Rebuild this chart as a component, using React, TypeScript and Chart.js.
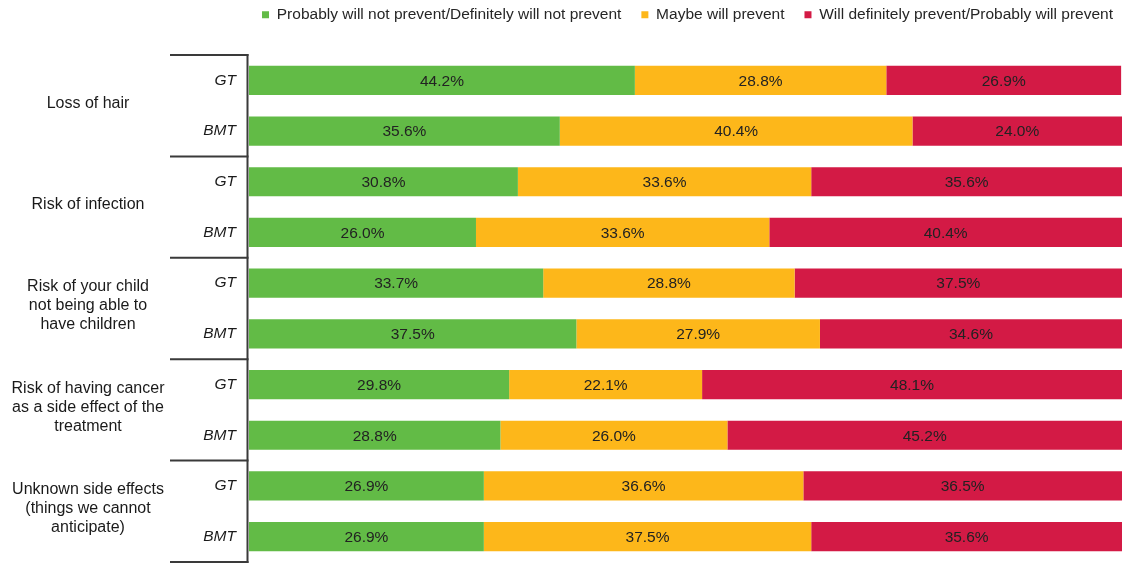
import React, { useEffect, useRef } from "react";
import { Chart, registerables } from "chart.js";

Chart.register(...registerables);

const groups: string[][] = [
  ["Loss of hair"],
  ["Risk of infection"],
  ["Risk of your child", "not being able to", "have children"],
  ["Risk of having cancer", "as a side effect of the", "treatment"],
  ["Unknown side effects", "(things we cannot", "anticipate)"],
];
const rowLabels = ["GT", "BMT", "GT", "BMT", "GT", "BMT", "GT", "BMT", "GT", "BMT"];
const seriesNames = [
  "Probably will not prevent/Definitely will not prevent",
  "Maybe will prevent",
  "Will definitely prevent/Probably will prevent",
];
const notPrevent = [44.2, 35.6, 30.8, 26.0, 33.7, 37.5, 29.8, 28.8, 26.9, 26.9];
const maybePrevent = [28.8, 40.4, 33.6, 33.6, 28.8, 27.9, 22.1, 26.0, 36.6, 37.5];
const willPrevent = [26.9, 24.0, 35.6, 40.4, 37.5, 34.6, 48.1, 45.2, 36.5, 35.6];
const colors = ["#62BB46", "#FDB71A", "#D31A45"];

const FONT = "'Liberation Sans', Arial, sans-serif";

const annotate = {
  id: "annotate",
  afterLayout(chart: any) {
    const lg = chart.legend;
    if (lg) {
      lg.left += 11;
      lg.right += 11;
      lg.top -= 13;
      lg.bottom -= 13;
    }
  },
  afterDatasetsDraw(chart: any) {
    const ctx = chart.ctx;
    ctx.save();
    ctx.fillStyle = "#222222";
    ctx.font = `15.5px ${FONT}`;
    ctx.textAlign = "center";
    ctx.textBaseline = "middle";
    chart.data.datasets.forEach((ds: any, di: number) => {
      const meta = chart.getDatasetMeta(di);
      meta.data.forEach((el: any, i: number) => {
        const v = ds.data[i];
        const cx = (el.x + el.base) / 2;
        ctx.fillText(`${v.toFixed(1)}%`, cx, el.y + 1);
      });
    });
    ctx.restore();
  },
  afterDraw(chart: any) {
    const ctx = chart.ctx;
    const area = chart.chartArea;
    const ys = chart.scales.y;
    ctx.save();
    ctx.strokeStyle = "#3a3a3a";
    ctx.lineWidth = 2;
    const axisX = area.left - 1.5;
    ctx.beginPath();
    ctx.moveTo(axisX, area.top - 1);
    ctx.lineTo(axisX, chart.height);
    ctx.stroke();
    const bounds: number[] = [area.top];
    for (let g = 1; g < groups.length; g++) {
      bounds.push((ys.getPixelForValue(2 * g - 1) + ys.getPixelForValue(2 * g)) / 2);
    }
    bounds.push(area.bottom);
    ctx.beginPath();
    bounds.forEach((b) => {
      ctx.moveTo(170, b);
      ctx.lineTo(axisX + 1, b);
    });
    ctx.stroke();
    ctx.fillStyle = "#1a1a1a";
    ctx.font = `16px ${FONT}`;
    ctx.textAlign = "center";
    ctx.textBaseline = "middle";
    groups.forEach((lines, g) => {
      const cy = (bounds[g] + bounds[g + 1]) / 2 - 2.5;
      const lh = 19;
      lines.forEach((t, k) => {
        ctx.fillText(t, 88, cy + (k - (lines.length - 1) / 2) * lh);
      });
    });
    ctx.restore();
  },
};

export default function App() {
  const ref = useRef<HTMLCanvasElement>(null);
  useEffect(() => {
    document.body.style.margin = "0";
    if (!ref.current) return;
    const chart = new Chart(ref.current, {
      type: "bar",
      data: {
        labels: rowLabels,
        datasets: [notPrevent, maybePrevent, willPrevent].map((d, i) => ({
          label: seriesNames[i],
          data: d,
          backgroundColor: colors[i],
          borderWidth: 0,
          categoryPercentage: 1,
          barPercentage: 0.575,
        })),
      },
      options: {
        indexAxis: "y",
        animation: false,
        responsive: true,
        maintainAspectRatio: false,
        layout: { padding: { top: 0, right: 4, bottom: 1, left: 0 } },
        plugins: {
          legend: {
            position: "top",
            align: "end",
            labels: {
              boxWidth: 7,
              boxHeight: 7,
              padding: 20,
              color: "#262626",
              font: { size: 15.5, family: FONT },
            },
          },
          tooltip: { enabled: false },
        },
        scales: {
          x: {
            stacked: true,
            min: 0,
            max: 100,
            position: "top",
            grid: { display: false },
            border: { display: false },
            ticks: { display: false },
            afterFit: (s: any) => {
              s.height = 9.5;
            },
          },
          y: {
            stacked: true,
            grid: { display: false, drawTicks: false },
            border: { display: false },
            ticks: {
              color: "#1a1a1a",
              padding: 13,
              font: { size: 15.5, style: "italic", family: FONT },
            },
            afterFit: (s: any) => {
              s.width = 249;
              s.paddingTop = 0;
              s.paddingBottom = 0;
            },
          },
        },
      },
      plugins: [annotate],
    });
    return () => chart.destroy();
  }, []);
  return (
    <div style={{ position: "relative", width: 1126, height: 563 }}>
      <canvas ref={ref} />
    </div>
  );
}
